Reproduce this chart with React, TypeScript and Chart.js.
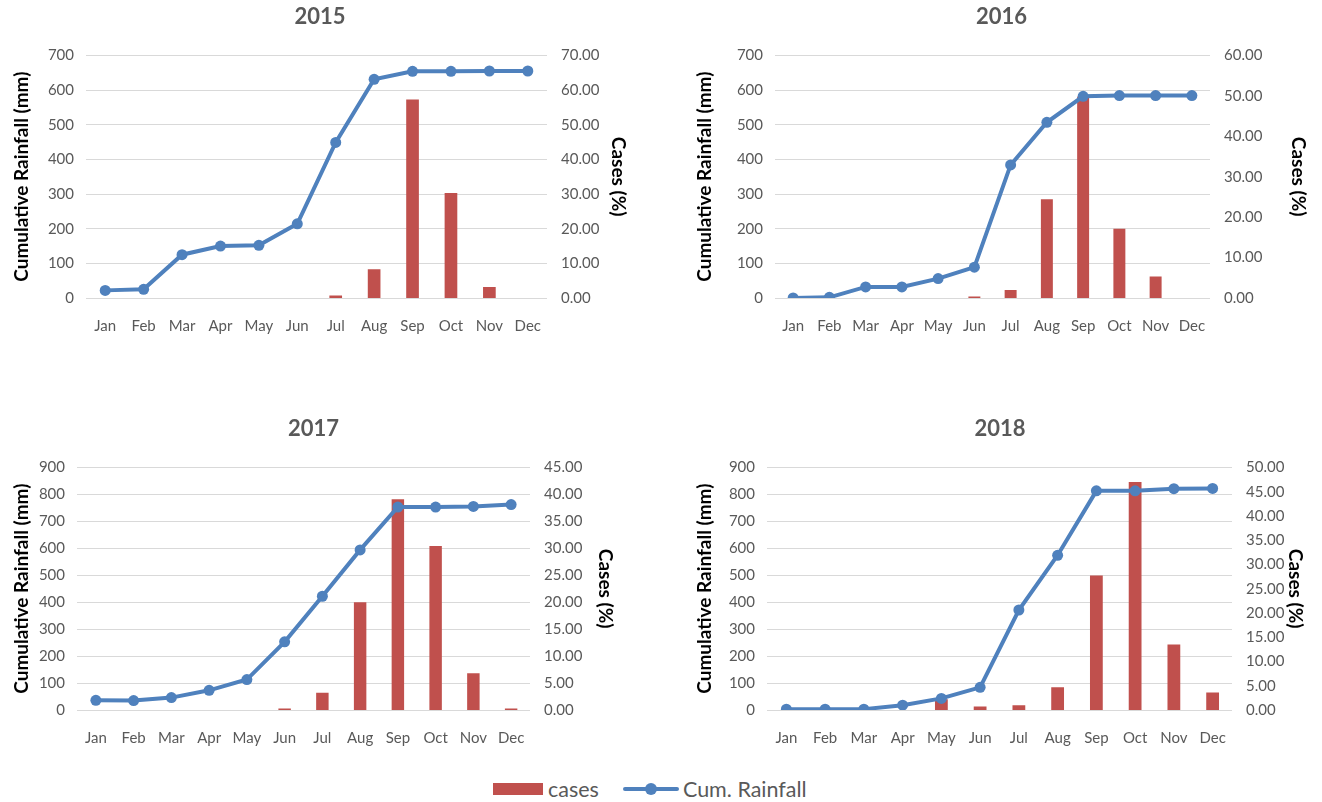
import React, { useEffect, useRef } from 'react';
import { Chart, registerables } from 'chart.js';

Chart.register(...registerables);

const months = ['Jan', 'Feb', 'Mar', 'Apr', 'May', 'Jun', 'Jul', 'Aug', 'Sep', 'Oct', 'Nov', 'Dec'];

const years = ['2015', '2016', '2017', '2018'];

const rain2015 = [22, 25, 125, 150, 152, 214, 449, 631, 654, 654, 655, 655];
const cases2015 = [0, 0, 0, 0, 0, 0, 0.7, 8.3, 57.3, 30.3, 3.2, 0];

const rain2016 = [0, 2, 32, 32, 56, 89, 384, 507, 582, 584, 584, 584];
const cases2016 = [0, 0, 0, 0, 0, 0.4, 2.0, 24.4, 49.8, 17.1, 5.3, 0];

const rain2017 = [36, 35, 46, 73, 113, 253, 422, 594, 753, 753, 755, 762];
const cases2017 = [0, 0, 0, 0, 0, 0.3, 3.2, 20.0, 39.1, 30.4, 6.8, 0.3];

const rain2018 = [3, 3, 3, 18, 43, 84, 371, 574, 813, 813, 821, 822];
const cases2018 = [0, 0, 0, 0, 2.2, 0.7, 1.0, 4.7, 27.7, 47.0, 13.5, 3.6];

const rainMax = [700, 700, 900, 900];
const rainStep = [100, 100, 100, 100];
const casesMax = [70, 60, 45, 50];
const casesStep = [10, 10, 5, 5];

const rainSeries = [rain2015, rain2016, rain2017, rain2018];
const casesSeries = [cases2015, cases2016, cases2017, cases2018];

const BLUE = '#4F81BD';
const RED = '#C0504D';
const TICK = '#595959';
const FONT = 'Lato, "Open Sans", sans-serif';

const layouts = [
  { left: 0, top: 0, width: 634, height: 345, padLeft: 6, yLeftW: 80, yRightW: 87 },
  { left: 689, top: 0, width: 625, height: 345, padLeft: 0, yLeftW: 86, yRightW: 104 },
  { left: 0, top: 412, width: 621, height: 345, padLeft: 6, yLeftW: 71, yRightW: 91 },
  { left: 689, top: 412, width: 622, height: 345, padLeft: 0, yLeftW: 78, yRightW: 79 },
];

function ComboChart({ idx }: { idx: number }) {
  const ref = useRef<HTMLCanvasElement>(null);
  const L = layouts[idx];
  useEffect(() => {
    const chart = new Chart(ref.current as HTMLCanvasElement, {
      type: 'bar',
      data: {
        labels: months,
        datasets: [
          {
            type: 'line',
            label: 'Cum. Rainfall',
            data: rainSeries[idx],
            yAxisID: 'y',
            borderColor: BLUE,
            backgroundColor: BLUE,
            borderWidth: 4,
            pointRadius: 5.5,
            pointBackgroundColor: BLUE,
            pointBorderColor: BLUE,
            pointBorderWidth: 0,
            tension: 0,
            order: 0,
          } as any,
          {
            type: 'bar',
            label: 'cases',
            data: casesSeries[idx],
            yAxisID: 'y1',
            backgroundColor: RED,
            barPercentage: 0.33,
            categoryPercentage: 1,
            order: 1,
          } as any,
        ],
      },
      options: {
        responsive: false,
        animation: false,
        layout: { padding: { left: L.padLeft, top: 0, right: 0, bottom: 0 } },
        plugins: {
          legend: { display: false },
          tooltip: { enabled: false },
          title: {
            display: true,
            text: years[idx],
            color: TICK,
            font: { family: FONT, size: 22, weight: 'bold' },
            padding: { top: 4, bottom: 25 },
          },
        },
        scales: {
          x: {
            grid: { display: false },
            border: { display: false },
            ticks: { color: TICK, font: { family: FONT, size: 15 }, padding: 11, maxRotation: 0, autoSkip: false },
            afterFit: (s: any) => { s.height = L.height - 298; },
          },
          y: {
            position: 'left',
            min: 0,
            max: rainMax[idx],
            ticks: { stepSize: rainStep[idx], color: TICK, font: { family: FONT, size: 15 }, padding: 12 },
            grid: { color: '#D9D9D9', drawTicks: false, lineWidth: 1 },
            border: { display: false },
            title: { display: true, text: 'Cumulative Rainfall (mm)', color: '#000', font: { family: FONT, size: 19, weight: 'bold' } },
            afterFit: (s: any) => { s.width = L.yLeftW; },
          },
          y1: {
            position: 'right',
            min: 0,
            max: casesMax[idx],
            ticks: {
              stepSize: casesStep[idx],
              color: TICK,
              font: { family: FONT, size: 15 },
              padding: 14,
              callback: (v: any) => Number(v).toFixed(2),
            },
            grid: { display: false, drawTicks: false },
            border: { display: false },
            title: { display: true, text: 'Cases (%)', color: '#000', font: { family: FONT, size: 19, weight: 'bold' } },
            afterFit: (s: any) => { s.width = L.yRightW; },
          },
        },
      } as any,
    });
    return () => chart.destroy();
  }, [idx]);
  return (
    <canvas
      ref={ref}
      width={L.width}
      height={L.height}
      style={{ position: 'absolute', left: L.left, top: L.top, width: L.width, height: L.height }}
    />
  );
}

export default function App() {
  return (
    <div style={{ position: 'fixed', left: 0, top: 0, width: 1322, height: 802, background: '#fff', overflow: 'hidden' }}>
      {[0, 1, 2, 3].map((i) => <ComboChart key={i} idx={i} />)}
      <div style={{ position: 'absolute', left: 493, top: 776, height: 26, display: 'flex', alignItems: 'center', fontFamily: FONT, fontSize: 21.5, color: TICK }}>
        <span style={{ display: 'inline-block', width: 50, height: 12, background: RED }} />
        <span style={{ marginLeft: 5 }}>cases</span>
        <span style={{ position: 'relative', display: 'inline-block', width: 56, height: 12, marginLeft: 24 }}>
          <span style={{ position: 'absolute', left: 0, top: 4, width: 56, height: 4, borderRadius: 2, background: BLUE }} />
          <span style={{ position: 'absolute', left: 22, top: 0, width: 12, height: 12, borderRadius: 6, background: BLUE }} />
        </span>
        <span style={{ marginLeft: 4 }}>Cum. Rainfall</span>
      </div>
    </div>
  );
}
